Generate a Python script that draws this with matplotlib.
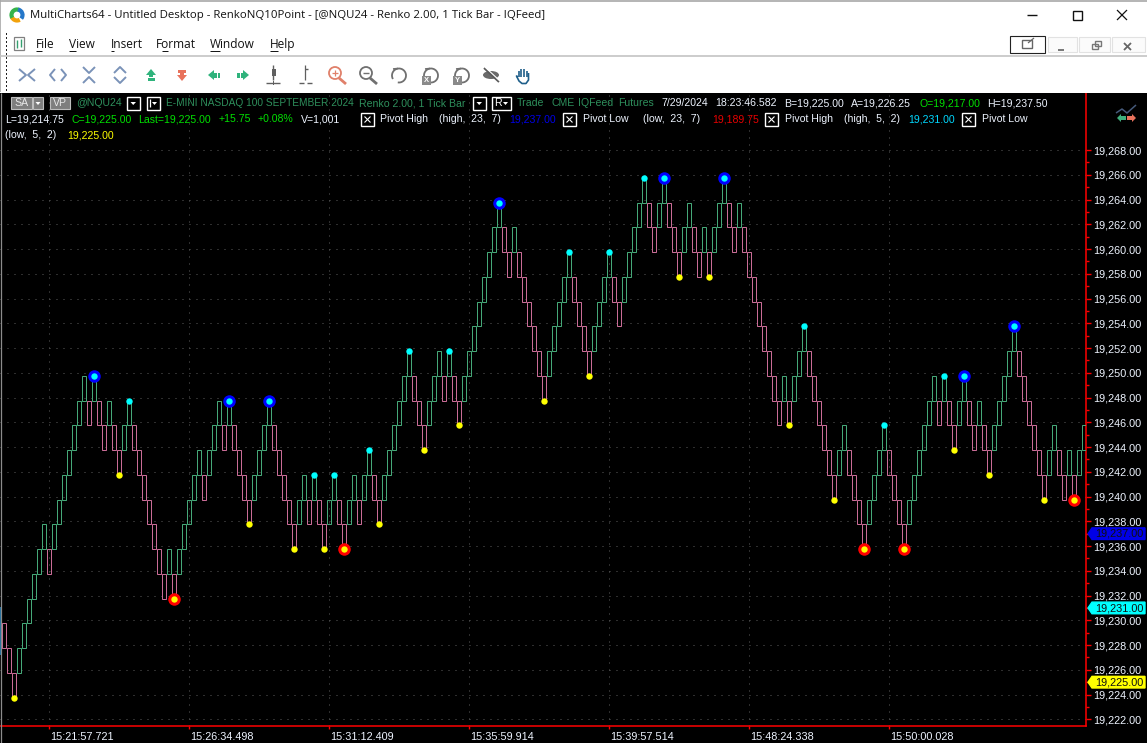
#!/usr/bin/env python3
import matplotlib
matplotlib.use('Agg')
import matplotlib.pyplot as plt
import numpy as np
from matplotlib.patches import Arc, Circle, Ellipse, Rectangle, Polygon
from matplotlib.transforms import ScaledTranslation, blended_transform_factory

W, H = 1147, 743

# renko brick closes, in 2 point steps above the lowest close
base_price = 19223.75
brick_step = 2.0
close_steps = [
    2, 1, 0, 2, 3, 4, 5, 6, 7, 5, 7, 8, 9, 10, 11, 12, 13, 11, 13, 11,
    10, 12, 10, 9, 11, 12, 10, 9, 8, 7, 6, 5, 4, 6, 4, 6, 7, 8, 9, 10,
    8, 10, 11, 12, 10, 12, 10, 9, 8, 7, 9, 10, 11, 12, 10, 9, 8, 7, 6, 8,
    9, 7, 9, 7, 6, 8, 9, 7, 6, 8, 9, 7, 9, 10, 8, 7, 9, 10, 11, 12,
    13, 14, 12, 11, 10, 12, 13, 14, 12, 14, 12, 11, 13, 14, 15, 16, 17, 18, 19, 20,
    18, 17, 19, 17, 16, 15, 14, 13, 12, 14, 15, 16, 17, 18, 16, 15, 14, 13, 15, 16,
    17, 18, 16, 15, 17, 18, 19, 20, 21, 19, 18, 20, 21, 19, 18, 17, 19, 20, 18, 17,
    19, 17, 19, 20, 21, 19, 18, 20, 18, 17, 16, 15, 14, 13, 12, 11, 13, 11, 13, 14,
    15, 13, 12, 11, 10, 9, 8, 10, 11, 9, 8, 7, 6, 8, 9, 10, 11, 9, 8, 7,
    6, 8, 9, 10, 11, 12, 13, 11, 13, 11, 10, 12, 13, 11, 10, 12, 10, 9, 11, 12,
    13, 14, 15, 13, 12, 11, 10, 9, 8, 10, 11, 9, 8, 10, 8, 10, 11,
]

# pivot study hits, as brick numbers
pivot_high_big = [18, 45, 53, 99, 132, 144, 192, 202]
pivot_low_big = [34, 68, 172, 180, 214]
pivot_high_small = [25, 62, 66, 73, 81, 89, 113, 121, 128, 160, 176, 188]
pivot_low_small = [2, 23, 49, 58, 64, 75, 84, 91, 108, 117, 135, 141, 157, 166, 190, 197, 208]

price_ticks = np.arange(19222, 19270, 2)
minor_ticks = np.arange(19223, 19269, 2)
time_bars = [9, 37, 65, 93, 121, 149, 177]
time_labels = ['15:21:57.721', '15:26:34.498', '15:31:12.409', '15:35:59.914',
               '15:39:57.514', '15:48:24.338', '15:50:00.028']
tag_prices = [19237.0, 19231.0, 19225.0]
tag_colors = ['#0000e6', '#00ffff', '#ffff00']

GREEN = '#45a878'
PINK = '#c96c96'
CHART_FONT = 'Liberation Sans'
UI_FONT = 'Open Sans'

closes = base_price + brick_step * np.array(close_steps)
bars = np.arange(len(closes))
up = np.diff(closes, prepend=closes[0] + brick_step) > 0
lows = np.where(up, closes - brick_step, closes)
highs = lows + brick_step

fig = plt.figure(figsize=(W / 100, H / 100), dpi=100, facecolor='black')

# chart panel, pixels 0..1086 across and 93..726 down
ax = fig.add_axes([0, 1 - 726.3 / H, 1086 / W, (726.3 - 93) / H], facecolor='black')
ax.set_xlim((0 - 3.7) / 5, (1086 - 3.7) / 5)
ax.set_ylim(19222 - (726.3 - 719.3) / 12.375, 19222 + (719.3 - 93) / 12.375)
for s in ['left', 'top']:
    ax.spines[s].set_visible(False)
for s in ['right', 'bottom']:
    ax.spines[s].set_color('#ff0000')
    ax.spines[s].set_linewidth(1.1)

ax.yaxis.tick_right()
ax.set_yticks(price_ticks)
ax.set_yticklabels(['{:,.2f}'.format(p) for p in price_ticks])
ax.set_yticks(minor_ticks, minor=True)
ax.set_xticks(time_bars)
ax.set_xticklabels(time_labels, ha='left')
ax.tick_params(axis='y', which='major', color='#ff0000', length=3.6, width=1,
               labelcolor='#eef4ff', labelsize=7.8, pad=1.6)
ax.tick_params(axis='y', which='minor', color='#ff0000', length=2, width=1)
ax.tick_params(axis='x', color='#ff0000', length=2, width=1,
               labelcolor='#eef4ff', labelsize=7.8, pad=2)
for lab in ax.get_xticklabels() + ax.get_yticklabels():
    lab.set_fontfamily(CHART_FONT)
for lab in ax.get_xticklabels():
    lab.set_transform(lab.get_transform() + ScaledTranslation(1 / 100, 0, fig.dpi_scale_trans))
ax.grid(True, color='#5c5c5c', lw=0.72, ls=(0, (1, 6)))
ax.set_axisbelow(True)

ax.bar(bars[up], brick_step, bottom=lows[up], width=0.8, facecolor='none',
       edgecolor=GREEN, lw=0.72, zorder=3)
ax.bar(bars[~up], brick_step, bottom=lows[~up], width=0.8, facecolor='none',
       edgecolor=PINK, lw=0.72, zorder=3)

ax.plot(pivot_high_small, highs[pivot_high_small], 'o', color='#00ffff', ms=4.6, mew=0, zorder=4)
ax.plot(pivot_low_small, lows[pivot_low_small], 'o', color='#ffff00', ms=4.6, mew=0, zorder=4)
ax.plot(pivot_high_big, highs[pivot_high_big], 'o', color='#0000ff', ms=9, mew=0, zorder=4)
ax.plot(pivot_high_big, highs[pivot_high_big], 'o', color='#00ffff', ms=4.6, mew=0, zorder=5)
ax.plot(pivot_low_big, lows[pivot_low_big], 'o', color='#ff0000', ms=9, mew=0, zorder=4)
ax.plot(pivot_low_big, lows[pivot_low_big], 'o', color='#ffff00', ms=4.6, mew=0, zorder=5)

# last value tags on the price scale
trans = blended_transform_factory(ax.transAxes, ax.transData)
x0, x1, x2 = 1088 / 1086, 1092 / 1086, 1145 / 1086
for price, col in zip(tag_prices, tag_colors):
    ax.fill([x0, x1, x2, x2, x1], [price, price + 0.47, price + 0.47, price - 0.47, price - 0.47],
            color=col, transform=trans, clip_on=False, zorder=6)
    ax.text(1095 / 1086, price - 0.02, '{:,.2f}'.format(price), transform=trans, color='#101010',
            fontsize=7.8, family=CHART_FONT, va='center', ha='left', clip_on=False, zorder=7)

# window frame and header, all in screen pixels
ui = fig.add_axes([0, 0, 1, 1], facecolor='none')
ui.set_xlim(0, W)
ui.set_ylim(H, 0)
ui.axis('off')


def rect(x, y, w, h, fc='none', ec='none', lw=1.0, **kw):
    ui.add_patch(Rectangle((x, y), w, h, facecolor=fc, edgecolor=ec, lw=lw, **kw))


def line(xs, ys, color, lw=1.0, **kw):
    ui.plot(xs, ys, color=color, lw=lw, solid_capstyle='butt', **kw)


def txt(x, y, s, color, size=7.6, font=CHART_FONT, **kw):
    ui.text(x, y, s, color=color, fontsize=size, family=font, va='center', ha='left', **kw)


rect(0, 0, W, 92.5, fc='white')
line([0, W], [0.5, 0.5], '#a8a8a8', 1.2)
line([0, 0], [0, 92], '#a8a8a8', 1.2)
line([0, W], [56, 56], '#c4c4c4', 1.2)
line([0.5, 0.5], [93, H], '#8c8c8c', 0.9)
rect(0, 607, 1.2, 48, fc='#1f6fa0')

# title bar
ui.add_patch(Arc((17, 15), 11, 11, theta1=60, theta2=160, color='#f2a20c', lw=3))
ui.add_patch(Arc((17, 15), 11, 11, theta1=150, theta2=290, color='#35b34a', lw=3))
ui.add_patch(Arc((17, 15), 11, 11, theta1=280, theta2=400, color='#2477c9', lw=3))
txt(30, 15.5, 'MultiCharts64 - Untitled Desktop - RenkoNQ10Point - [@NQU24 - Renko 2.00, 1 Tick Bar - IQFeed]',
    '#111111', 8.2, UI_FONT)
line([1027, 1037], [15, 15], '#111111', 1.0)
rect(1072.5, 10.5, 9.5, 9.5, ec='#111111', lw=1.0)
line([1117, 1127], [10, 20], '#111111', 0.9)
line([1117, 1127], [20, 10], '#111111', 0.9)

# menu bar
for x, label, ux, uw in [(36, 'File', 36, 6), (69, 'View', 69, 7), (111, 'Insert', 111, 3),
                         (156, 'Format', 162, 6), (210, 'Window', 210, 10), (270, 'Help', 270, 8)]:
    txt(x, 44.5, label, '#111111', 8.55, UI_FONT)
    line([ux, ux + uw], [51, 51], '#111111', 0.7)
for y in np.arange(33, 92, 4):
    rect(5.5, y, 1.6, 1.6, fc='#222222')
rect(14, 37, 10, 13, ec='#808080', lw=0.9)
line([17, 17], [40, 48], '#35a070', 1.0)
line([21, 21], [39, 47], '#35a070', 1.0)

# small window buttons
rect(1010, 36, 35, 17, fc='white', ec='#222222', lw=0.8)
rect(1048, 37, 29, 15, fc='#fbfbfb', ec='#e2e2e2', lw=0.8)
rect(1079, 37, 31, 15, fc='#fbfbfb', ec='#e2e2e2', lw=0.8)
rect(1112, 37, 33, 15, fc='#fbfbfb', ec='#e2e2e2', lw=0.8)
rect(1022, 40, 10, 8, ec='#666666', lw=1.0)
line([1028, 1034], [43, 38], '#666666', 0.9)
line([1058, 1064], [50, 50], '#777777', 1.4)
rect(1092, 44, 6, 5, ec='#777777', lw=1.0)
rect(1094.5, 41, 6, 5, ec='#777777', lw=1.0)
line([1124, 1131], [43, 50], '#666666', 1.3)
line([1124, 1131], [50, 43], '#666666', 1.3)

# toolbar
BLUEGRAY = '#7a92b8'
line([19, 26, 19], [69, 75, 81], BLUEGRAY, 1.4)
line([35, 28, 35], [69, 75, 81], BLUEGRAY, 1.4)
line([55, 50, 55], [69, 75, 81], BLUEGRAY, 1.4)
line([61, 66, 61], [69, 75, 81], BLUEGRAY, 1.4)
line([83, 89, 95], [67, 73, 67], BLUEGRAY, 1.4)
line([83, 89, 95], [83, 77, 83], BLUEGRAY, 1.4)
line([114, 120, 126], [73, 67, 73], BLUEGRAY, 1.4)
line([114, 120, 126], [77, 83, 77], BLUEGRAY, 1.4)
ARR_G, ARR_R = '#2fb37c', '#e8725c'
ui.add_patch(Polygon([(146, 75), (151, 69), (156, 75)], fc=ARR_G, ec='none'))
rect(149, 75, 4, 2, fc=ARR_G)
rect(148, 78, 7, 2.5, fc=ARR_G)
rect(178, 70, 8, 2.5, fc=ARR_R)
rect(180, 73, 4, 2, fc=ARR_R)
ui.add_patch(Polygon([(177, 75), (182, 81), (187, 75)], fc=ARR_R, ec='none'))
ui.add_patch(Polygon([(208, 75), (214, 70), (214, 80)], fc=ARR_G, ec='none'))
rect(214, 72.5, 2.5, 5, fc=ARR_G)
rect(217.5, 72.5, 2.5, 5, fc=ARR_G)
ui.add_patch(Polygon([(249, 75), (243, 70), (243, 80)], fc=ARR_G, ec='none'))
rect(240.5, 72.5, 2.5, 5, fc=ARR_G)
rect(237, 72.5, 2.5, 5, fc=ARR_G)
DARK = '#5f5f5f'
line([273, 273], [65, 80], DARK, 1.0)
rect(272, 69, 4, 7, fc=DARK)
line([266, 280], [83, 83], DARK, 1.0)
rect(273, 81, 1, 4, fc=DARK)
line([305, 305], [65, 80], DARK, 0.9)
line([305, 308], [69, 69], DARK, 1.0)
line([299, 304], [83, 83], DARK, 1.0)
line([307, 312], [83, 83], DARK, 1.0)
MAG_R = '#e0806a'
ui.add_patch(Circle((335, 73), 6, fc='none', ec=MAG_R, lw=1.3))
line([339, 346], [78, 84], MAG_R, 2.0)
line([332, 338], [73, 73], MAG_R, 0.9)
line([335, 335], [70, 76], MAG_R, 0.9)
ui.add_patch(Circle((366, 73), 6, fc='none', ec='#707070', lw=1.3))
line([370, 377], [78, 84], '#707070', 2.0)
line([363, 369], [73, 73], '#707070', 1.0)
for cx in [399, 431, 462]:
    ui.add_patch(Arc((cx, 75.5), 14, 14, theta1=-210, theta2=100, color='#707070', lw=1.3))
    line([cx - 6, cx - 1], [69, 68.5], '#707070', 1.2)
for cx, letter in [(426, 'X'), (457, 'Y')]:
    rect(cx - 4, 76, 8.5, 9, fc='#8a8a8a')
    ui.text(cx + 0.2, 80.8, letter, color='white', fontsize=5.5, family=CHART_FONT,
            weight='bold', ha='center', va='center')
ui.add_patch(Ellipse((491, 75), 16, 8, fc='#6a6a6a', ec='none'))
line([484, 499], [68, 82], '#5a5a5a', 1.4)
line([485, 500], [67, 81], 'white', 0.8)
HAND = '#1f5f8a'
for fx, top in [(518.5, 71), (521, 68.5), (523.8, 68.5), (526.5, 70.5)]:
    line([fx, fx], [top, 77], HAND, 1.2)
line([518, 516.5, 519, 522, 526, 528.5, 528.5], [77, 76, 81, 83.5, 83.5, 80, 73], HAND, 1.2)

# header row 1
GRN_TXT = '#2e8f5c'
rect(11, 97, 21, 12, fc='#7e7e7e', ec='#bdbdbd', lw=0.8)
rect(33, 97, 10, 12, fc='#7e7e7e', ec='#bdbdbd', lw=0.8)
txt(14.5, 103.5, 'SA', '#e8e8e8', 7.6)
rect(50, 97, 20, 12, fc='#7e7e7e', ec='#bdbdbd', lw=0.8)
txt(52.5, 103.5, 'VP', '#e8e8e8', 7.6)
ui.add_patch(Polygon([(35.5, 102), (40.5, 102), (38, 105)], fc='white', ec='none'))
txt(76, 103.5, '@NQU24', GRN_TXT)
rect(127, 97, 12.5, 12.5, ec='white', lw=1.0)
ui.add_patch(Polygon([(130.5, 102), (136, 102), (133.2, 105)], fc='white', ec='none'))
rect(147, 97, 12.5, 12.5, ec='white', lw=1.0)
line([150, 150], [99, 107], 'white', 0.9)
ui.add_patch(Polygon([(152, 102), (157, 102), (154.5, 105)], fc='white', ec='none'))
txt(166, 103.5, 'E-MINI NASDAQ 100 SEPTEMBER 2024', GRN_TXT, 7.3)
txt(359, 103.5, 'Renko 2.00, 1 Tick Bar', GRN_TXT)
rect(473, 97, 13, 12.5, ec='white', lw=1.0)
ui.add_patch(Polygon([(476.5, 102), (482, 102), (479.2, 105)], fc='white', ec='none'))
rect(492, 97, 19, 12.5, ec='white', lw=1.0)
txt(494.5, 103.5, 'R', 'white', 7.6)
ui.add_patch(Polygon([(503, 102), (508, 102), (505.5, 105)], fc='white', ec='none'))
for x, label, col in [(517, 'Trade', GRN_TXT), (551, 'CME', GRN_TXT), (578, 'IQFeed', GRN_TXT),
                      (618, 'Futures', GRN_TXT), (661, '7/29/2024', '#eef4ff'),
                      (715, '18:23:46.582', '#eef4ff'), (784, 'B=19,225.00', '#eef4ff'),
                      (851, 'A=19,226.25', '#eef4ff'), (919, 'O=19,217.00', '#00e000'),
                      (987, 'H=19,237.50', '#eef4ff')]:
    txt(x, 103.5, label, col)

# header row 2 and 3
for x, label, col in [(5, 'L=19,214.75', '#eef4ff'), (71, 'C=19,225.00', '#00e000'),
                      (138, 'Last=19,225.00', '#00e000'), (219, '+15.75', '#00e000'),
                      (258, '+0.08%', '#00e000'), (301, 'V=1,001', '#eef4ff'),
                      (380, 'Pivot High', '#eef4ff'), (439, '(high,  23,  7)', '#eef4ff'),
                      (509, '19,237.00', '#0000e6'), (583, 'Pivot Low', '#eef4ff'),
                      (643, '(low,  23,  7)', '#eef4ff'), (712, '19,189.75', '#e60000'),
                      (785, 'Pivot High', '#eef4ff'), (844, '(high,  5,  2)', '#eef4ff'),
                      (908, '19,231.00', '#00d8ff'), (982, 'Pivot Low', '#eef4ff')]:
    txt(x, 119.5, label, col)
for bx in [361, 563, 765, 962]:
    rect(bx, 113, 13, 13, ec='white', lw=1.0)
    line([bx + 3.5, bx + 9.5], [116.5, 122.5], 'white', 0.8)
    line([bx + 3.5, bx + 9.5], [122.5, 116.5], 'white', 0.8)
txt(5, 135.5, '(low,  5,  2)', '#eef4ff')
txt(67, 135.5, '19,225.00', '#ffff00')

# small study icon near the price scale
line([1116, 1122, 1127, 1136], [113, 109, 113, 105], '#45597a', 1.1)
ui.add_patch(Polygon([(1117, 118), (1121, 114), (1121, 122)], fc='#3fae7c', ec='none'))
rect(1121, 116, 5, 4, fc='#3fae7c')
ui.add_patch(Polygon([(1136, 118), (1132, 114), (1132, 122)], fc='#e8725c', ec='none'))
rect(1127, 116, 5, 4, fc='#e8725c')

fig.savefig('out.png', dpi=100, facecolor='black')
